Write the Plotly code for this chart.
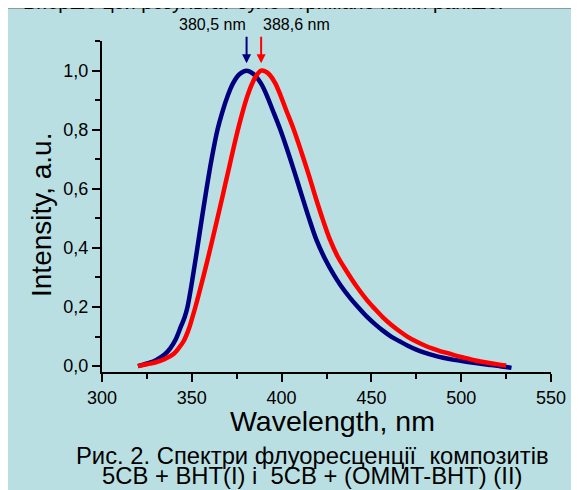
import plotly.graph_objects as go

# ---- data ----
wl_blue = [320, 325, 330, 335, 338, 341, 344, 346, 347.6, 349, 350.5, 353.1, 355.6, 358.2, 361,
           364.3, 367, 370, 373, 376.5, 380.5, 384.5, 388.5, 391.5, 395, 399, 403, 407, 411,
           415, 419.4, 424, 428.7, 433, 438, 442.5, 447.2, 452, 456.4, 461, 465.7, 470, 475,
           480, 484.2, 490, 496, 502.7, 510, 516, 521.3, 525, 528]
int_blue = [0.0, 0.009, 0.02, 0.04, 0.06, 0.09, 0.135, 0.165, 0.2, 0.245, 0.3, 0.4, 0.5, 0.6,
            0.7, 0.8, 0.86, 0.915, 0.958, 0.988, 1.0, 0.988, 0.957, 0.92, 0.867, 0.805, 0.735,
            0.66, 0.582, 0.505, 0.427, 0.365, 0.313, 0.272, 0.232, 0.2, 0.169, 0.142, 0.12,
            0.1, 0.084, 0.07, 0.056, 0.045, 0.037, 0.028, 0.021, 0.015, 0.009, 0.004, 0.0,
            -0.003, -0.006]

wl_red = [320, 325, 330, 335, 340, 343, 345.5, 348, 350, 352, 354.2, 356.4, 358.7, 361, 363.5,
          366, 368.5, 371, 373.5, 376, 378.5, 381, 383.5, 386, 388.6, 391, 393.5, 396.5, 399.5,
          402.5, 406.5, 411, 415, 419, 423, 427, 431.3, 436.1, 441.5, 447.2, 452, 456.4, 461,
          465.7, 470, 475, 480, 484.2, 488.5, 493.5, 498, 502.7, 508, 514, 521.3, 525]
int_red = [0.0, 0.006, 0.013, 0.024, 0.042, 0.063, 0.085, 0.12, 0.158, 0.2, 0.25, 0.302,
           0.358, 0.416, 0.48, 0.545, 0.612, 0.678, 0.745, 0.808, 0.865, 0.915, 0.955, 0.984,
           1.0, 0.997, 0.985, 0.957, 0.915, 0.867, 0.805, 0.725, 0.65, 0.57, 0.495, 0.427,
           0.37, 0.322, 0.272, 0.226, 0.193, 0.165, 0.14, 0.118, 0.1, 0.083, 0.069, 0.059,
           0.05, 0.042, 0.034, 0.027, 0.019, 0.012, 0.005, 0.002]

peaks = [380.5, 388.6]
peak_colors = ["#00007f", "#ff0000"]

x_ticks = [300, 350, 400, 450, 500, 550]
y_ticks = [0.0, 0.2, 0.4, 0.6, 0.8, 1.0]

x_title = "Wavelength, nm"
y_title = "Intensity, a.u."
top_text = "Вперше цей результат було отримано нами раніше."
caption_1 = "Рис. 2. Спектри флуоресценції \u00a0композитів"
caption_2 = "5CB + BHT(I) і \u00a05CB + (OMMT-BHT) (II)"

FONT = "Arial, Liberation Sans, sans-serif"
BG = "#badfe2"

fig = go.Figure()
fig.add_trace(go.Scatter(x=wl_blue, y=int_blue, mode="lines",
                         line=dict(color=peak_colors[0], width=4.5, shape="spline", smoothing=1),
                         showlegend=False))
fig.add_trace(go.Scatter(x=wl_red, y=int_red, mode="lines",
                         line=dict(color=peak_colors[1], width=4.5, shape="spline", smoothing=1),
                         showlegend=False))

# the page body adds an 8px offset; positions below are in window pixels
OFF = 8
W, H = 579, 490
PX0, PX1, PY0, PY1 = 102, 551, 41, 372          # plot area in window pixels
L, T = PX0 - OFF, PY0 - OFF
pw, ph = PX1 - PX0, PY1 - PY0
R, B = W - L - pw, H - T - ph


def px_to_paper_x(px):
    return (px - PX0) / pw


def px_to_paper_y(py):
    return (PY1 - py) / ph


# background panel with gray border (white strip at top and left)
fig.add_shape(type="rect", xref="paper", yref="paper",
              x0=px_to_paper_x(4.5), x1=px_to_paper_x(W + 20),
              y0=px_to_paper_y(H + 20), y1=px_to_paper_y(8.5),
              fillcolor=BG, line=dict(color="#8a9ea2", width=1), layer="below")

annotations = []
# cut-off line of text above the figure
annotations.append(dict(text=top_text, xref="paper", yref="paper",
                        x=px_to_paper_x(21), y=px_to_paper_y(2), xanchor="left", yanchor="middle",
                        showarrow=False, font=dict(family=FONT, size=20, color="black")))

# arrows and peak labels
shifts = [-34, 35]
for p, c, s in zip(peaks, peak_colors, shifts):
    annotations.append(dict(x=p, y=1.0254, xref="x", yref="y", text="", showarrow=True,
                            ax=0, ay=-28, arrowhead=2, arrowsize=0.9, arrowwidth=2, arrowcolor=c))
    annotations.append(dict(x=p, y=px_to_paper_y(25), xref="x", yref="paper",
                            text=f"{p:.1f}".replace(".", ",") + " nm", showarrow=False,
                            xshift=s, yanchor="middle", xanchor="center",
                            font=dict(family=FONT, size=16, color="black")))

# axis titles
annotations.append(dict(text=x_title, xref="paper", yref="paper", x=px_to_paper_x(332),
                        y=px_to_paper_y(421), xanchor="center", yanchor="middle", showarrow=False,
                        font=dict(family=FONT, size=28.5, color="black")))
annotations.append(dict(text=y_title, xref="paper", yref="paper", x=px_to_paper_x(41),
                        y=px_to_paper_y(215), xanchor="center", yanchor="middle", showarrow=False,
                        textangle=-90, font=dict(family=FONT, size=28, color="black")))

# caption
annotations.append(dict(text=caption_1, xref="paper", yref="paper", x=px_to_paper_x(312),
                        y=px_to_paper_y(455), xanchor="center", yanchor="middle", showarrow=False,
                        font=dict(family=FONT, size=23.8, color="black")))
annotations.append(dict(text=caption_2, xref="paper", yref="paper", x=px_to_paper_x(312),
                        y=px_to_paper_y(475), xanchor="center", yanchor="middle", showarrow=False,
                        font=dict(family=FONT, size=23.8, color="black")))

fig.update_layout(
    width=W, height=H,
    margin=dict(l=L, r=R, t=T, b=B, pad=0),
    paper_bgcolor="white",
    plot_bgcolor="rgba(0,0,0,0)",
    separators=", ",
    font=dict(family=FONT, color="black"),
    annotations=annotations,
    xaxis=dict(range=[300, 550], tickvals=x_ticks, ticks="outside", ticklen=8, tickwidth=2,
               tickcolor="black", showline=True, linecolor="black", linewidth=2,
               showgrid=False, zeroline=False, tickfont=dict(size=18),
               minor=dict(dtick=25, tick0=300, ticks="outside", ticklen=5, tickwidth=2,
                          tickcolor="black", showgrid=False),
               automargin=False),
    yaxis=dict(range=[-0.02, 1.1005], tickvals=y_ticks, tickformat=".1f", ticks="outside",
               ticklen=8, tickwidth=2, tickcolor="black", showline=True, linecolor="black",
               linewidth=2, showgrid=False, zeroline=False, tickfont=dict(size=18),
               minor=dict(dtick=0.1, tick0=0, ticks="outside", ticklen=5, tickwidth=2,
                          tickcolor="black", showgrid=False),
               automargin=False),
)

fig.write_html("out.html")
